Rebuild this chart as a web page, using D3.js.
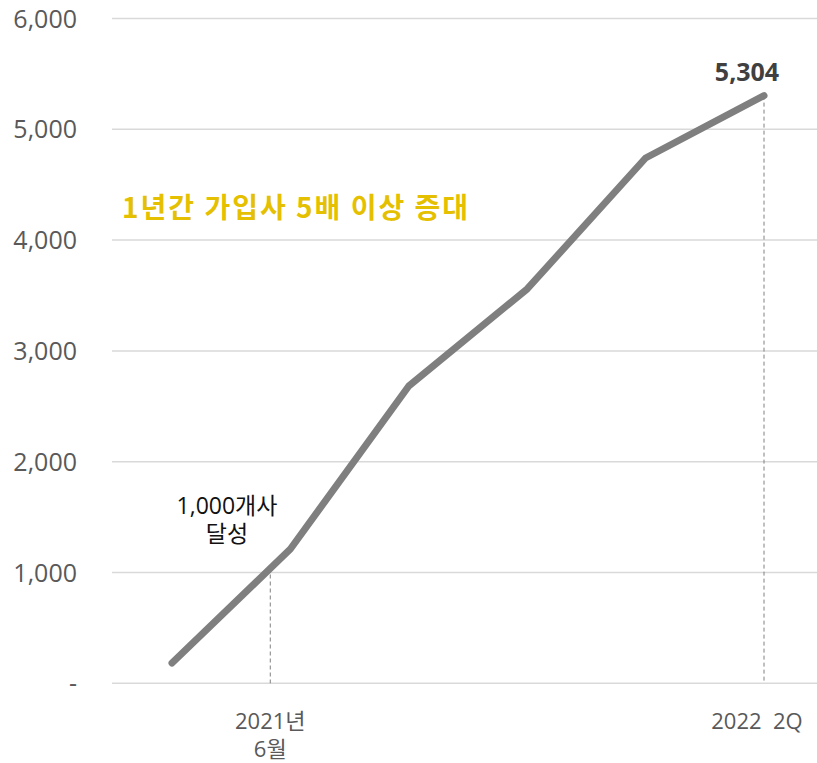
<!DOCTYPE html>
<html><head><meta charset="utf-8">
<script src="https://cdn.jsdelivr.net/npm/d3@7"></script>
<style>body{margin:0;background:#fff}svg{display:block;font-family:"Open Sans","Noto Sans CJK KR",sans-serif}</style>
</head><body><svg id="c" width="817" height="763"></svg>
<script>
const pointIndex = [0, 1, 2, 3, 4, 5];
const members = [183, 1212, 2683, 3559, 4741, 5304];
const yTicks = [0, 1000, 2000, 3000, 4000, 5000, 6000];
const yTickLabels = ["-", "1,000", "2,000", "3,000", "4,000", "5,000", "6,000"];
const markers = [
  {pos: 0.83, value: 1045, label: ["2021년", "6월"], anchorDx: 0},
  {pos: 5, value: 5304, label: ["2022  2Q"], anchorDx: -7}
];
const headline = "1년간 가입사 5배 이상 증대";
const milestone = ["1,000개사", "달성"];
const lastLabel = "5,304";

const svg = d3.select("#c");
const x = d3.scaleLinear().domain([0, 5]).range([172, 764]);
const y = d3.scaleLinear().domain([0, 6000]).range([683.3, 18.5]);

svg.append("g").selectAll("line").data(yTicks).join("line")
  .attr("x1", 112).attr("x2", 817)
  .attr("y1", d => y(d)).attr("y2", d => y(d))
  .attr("stroke", "#d9d9d9").attr("stroke-width", 1.5);
svg.append("g").selectAll("text").data(yTicks).join("text")
  .attr("x", 77).attr("y", d => y(d)).attr("dy", "0.36em")
  .attr("text-anchor", "end").attr("fill", "#595959")
  .attr("font-size", 25).text((d, i) => yTickLabels[i]);

svg.append("g").selectAll("line").data(markers).join("line")
  .attr("x1", d => x(d.pos)).attr("x2", d => x(d.pos))
  .attr("y1", d => y(d.value)).attr("y2", y(0))
  .attr("stroke", "#808080").attr("stroke-width", 1).attr("stroke-dasharray", "4,3");

svg.append("path").datum(pointIndex)
  .attr("d", d3.line().x(i => x(i)).y(i => y(members[i])))
  .attr("fill", "none").attr("stroke", "#7f7f7f").attr("stroke-width", 7)
  .attr("stroke-linecap", "round").attr("stroke-linejoin", "round");

markers.forEach(m => {
  const t = svg.append("text").attr("text-anchor", "middle").attr("fill", "#595959").attr("font-size", 22);
  m.label.forEach((l, j) => t.append("tspan").attr("x", x(m.pos) + m.anchorDx).attr("y", 729 + j * 28).attr("xml:space", "preserve").text(l));
});

svg.append("text").attr("x", 122).attr("y", 218).attr("fill", "#e5c000")
  .attr("font-size", 28).attr("letter-spacing", 2).attr("font-weight", "bold")
  .attr("font-family", "'Noto Sans CJK KR',sans-serif").text(headline);

const mt = svg.append("text").attr("text-anchor", "middle").attr("fill", "#111").attr("font-size", 23);
milestone.forEach((l, j) => mt.append("tspan").attr("x", 227).attr("y", 514 + j * 28).text(l));

svg.append("text").attr("x", x(5) - 17).attr("y", 81).attr("text-anchor", "middle")
  .attr("fill", "#404040").attr("font-size", 25).attr("font-weight", "bold").text(lastLabel);
</script></body></html>
